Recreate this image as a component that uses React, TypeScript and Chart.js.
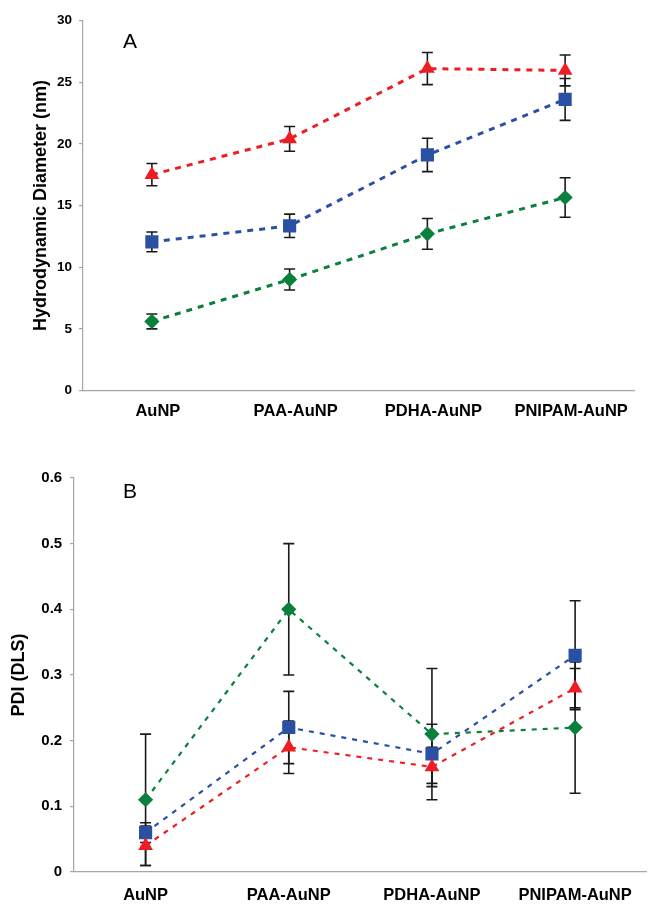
import React, { useEffect, useRef } from 'react';
import { Chart, registerables } from 'chart.js';

Chart.register(...registerables);

const categories = ['AuNP', 'PAA-AuNP', 'PDHA-AuNP', 'PNIPAM-AuNP'];

// Panel A: hydrodynamic diameter (nm)
const diamRed = [17.5, 20.4, 26.1, 25.95];
const diamRedErr = [0.9, 1.0, 1.3, 1.25];
const diamBlue = [12.05, 13.35, 19.1, 23.6];
const diamBlueErr = [0.8, 0.95, 1.35, 1.7];
const diamGreen = [5.6, 9.0, 12.7, 15.65];
const diamGreenErr = [0.6, 0.85, 1.25, 1.6];

// Panel B: PDI (DLS)
const pdiRed = [0.04, 0.19, 0.16, 0.28];
const pdiRedErr = [0.03, 0.04, 0.03, 0.03];
const pdiBlue = [0.06, 0.22, 0.18, 0.33];
const pdiBlueErr = [0.015, 0.055, 0.045, 0.083];
const pdiGreen = [0.11, 0.4, 0.21, 0.22];
const pdiGreenErr = [0.1, 0.1, 0.1, 0.1];

const RED = '#ee1d23';
const BLUE = '#2a50a4';
const GREEN = '#0b7f3c';
const AXIS = '#a6a6a6';
const FONT = '"Liberation Sans", Arial, sans-serif';

function errorBarPlugin(errs: number[][]) {
  return {
    id: 'errorBars',
    beforeDatasetsDraw(chart: any) {
      const { ctx } = chart;
      const yScale = chart.scales.y;
      ctx.save();
      ctx.strokeStyle = '#1a1a1a';
      ctx.lineWidth = 1.6;
      chart.data.datasets.forEach((ds: any, i: number) => {
        const meta = chart.getDatasetMeta(i);
        meta.data.forEach((pt: any, j: number) => {
          const v = ds.data[j] as number;
          const e = errs[i][j];
          const x = pt.x;
          const y1 = yScale.getPixelForValue(v + e);
          const y2 = yScale.getPixelForValue(v - e);
          ctx.beginPath();
          ctx.moveTo(x, y1);
          ctx.lineTo(x, y2);
          ctx.moveTo(x - 5.5, y1);
          ctx.lineTo(x + 5.5, y1);
          ctx.moveTo(x - 5.5, y2);
          ctx.lineTo(x + 5.5, y2);
          ctx.stroke();
        });
      });
      ctx.restore();
    },
  };
}

function panelLabel(text: string, x: number, y: number) {
  return {
    id: 'panelLabel',
    afterDraw(chart: any) {
      const { ctx } = chart;
      ctx.save();
      ctx.fillStyle = '#000';
      ctx.font = `21px ${FONT}`;
      ctx.textAlign = 'center';
      ctx.textBaseline = 'middle';
      ctx.fillText(text, x, y);
      ctx.restore();
    },
  };
}

function makeDatasets(red: number[], blue: number[], green: number[], lw: number, dash: number[]) {
  const common = {
    fill: false,
    tension: 0,
    borderWidth: lw,
    borderDash: dash,
    pointBorderWidth: 0,
  };
  return [
    { ...common, data: red, borderColor: RED, backgroundColor: RED, pointBackgroundColor: RED, pointStyle: 'triangle', pointRadius: 8.5 },
    { ...common, data: blue, borderColor: BLUE, backgroundColor: BLUE, pointBackgroundColor: BLUE, pointStyle: 'rect', pointRadius: 9.3 },
    { ...common, data: green, borderColor: GREEN, backgroundColor: GREEN, pointBackgroundColor: GREEN, pointStyle: 'rectRot', pointRadius: 7.6 },
  ];
}

function buildOptions(o: {
  padTop: number; padRight: number; yWidth: number; xHeight: number;
  min: number; max: number; step: number; tickFont: number; tickPad: number;
  xPad: number; labelOffset: number; title: string; titlePad: number;
}) {
  return {
    responsive: false,
    animation: false,
    layout: { padding: { top: o.padTop, right: o.padRight, bottom: 0, left: 0 } },
    plugins: { legend: { display: false }, tooltip: { enabled: false } },
    scales: {
      x: {
        type: 'category',
        offset: true,
        grid: { display: true, drawOnChartArea: false, drawTicks: false, color: AXIS },
        border: { display: true, color: AXIS, width: 1.2 },
        ticks: {
          color: '#000',
          font: { family: FONT, size: 16.5, weight: 'bold' },
          padding: o.xPad,
          labelOffset: o.labelOffset,
          maxRotation: 0,
          autoSkip: false,
        },
        afterFit: (s: any) => { s.height = o.xHeight; },
      },
      y: {
        min: o.min,
        max: o.max,
        ticks: {
          stepSize: o.step,
          color: '#000',
          font: { family: FONT, size: o.tickFont, weight: 'bold' },
          padding: o.tickPad,
        },
        grid: { display: true, drawOnChartArea: false, drawTicks: true, tickLength: 4, color: AXIS, lineWidth: 1.2 },
        border: { display: true, color: AXIS, width: 1.2 },
        title: {
          display: true,
          text: o.title,
          color: '#000',
          font: { family: FONT, size: 18, weight: 'bold' },
          padding: { top: o.titlePad, bottom: 0 },
        },
        afterFit: (s: any) => { s.width = o.yWidth; },
      },
    },
  };
}

export default function App() {
  const refA = useRef<HTMLCanvasElement>(null);
  const refB = useRef<HTMLCanvasElement>(null);

  useEffect(() => {
    const chartA = new Chart(refA.current as HTMLCanvasElement, {
      type: 'line',
      data: { labels: categories, datasets: makeDatasets(diamRed, diamBlue, diamGreen, 3, [6, 6]) as any },
      options: buildOptions({
        padTop: 20.5, padRight: 15, yWidth: 83, xHeight: 39.5,
        min: 0, max: 30, step: 5, tickFont: 13.5, tickPad: 7,
        xPad: 11.3, labelOffset: 6, title: 'Hydrodynamic Diameter (nm)', titlePad: 30,
      }) as any,
      plugins: [errorBarPlugin([diamRedErr, diamBlueErr, diamGreenErr]), panelLabel('A', 130, 42)],
    });
    const chartB = new Chart(refB.current as HTMLCanvasElement, {
      type: 'line',
      data: { labels: categories, datasets: makeDatasets(pdiRed, pdiBlue, pdiGreen, 2.2, [5, 6]) as any },
      options: buildOptions({
        padTop: 38, padRight: 3.5, yWidth: 74, xHeight: 33,
        min: 0, max: 0.6, step: 0.1, tickFont: 15, tickPad: 7.8,
        xPad: 13.1, labelOffset: 0, title: 'PDI (DLS)', titlePad: 7.8,
      }) as any,
      plugins: [errorBarPlugin([pdiRedErr, pdiBlueErr, pdiGreenErr]), panelLabel('B', 130, 52)],
    });
    return () => {
      chartA.destroy();
      chartB.destroy();
    };
  }, []);

  return (
    <div style={{ position: 'fixed', left: 0, top: 0, width: 649, height: 905, overflow: 'hidden', background: '#fff' }}>
      <canvas ref={refA} width={649} height={430} style={{ position: 'absolute', left: 0, top: 0 }} />
      <canvas ref={refB} width={656} height={465} style={{ position: 'absolute', left: 0, top: 440 }} />
    </div>
  );
}
